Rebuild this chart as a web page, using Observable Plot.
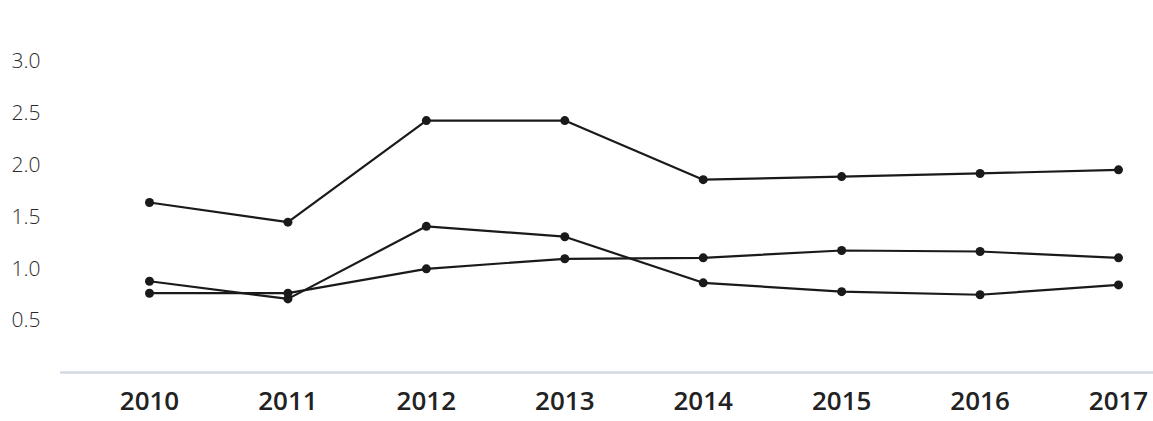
<!DOCTYPE html>
<html>
<head>
<meta charset="utf-8">
<script src="https://cdn.jsdelivr.net/npm/d3@7"></script>
<script src="https://cdn.jsdelivr.net/npm/@observablehq/plot@0.6"></script>
<style>
  html, body { margin: 0; padding: 0; background: #fff; }
  #chart svg { display: block; }
</style>
</head>
<body>
<div id="chart"></div>
<script>
const years = [2010, 2011, 2012, 2013, 2014, 2015, 2016, 2017];
const seriesA = [1.64, 1.45, 2.43, 2.43, 1.86, 1.89, 1.92, 1.955];
const seriesB = [0.88, 0.71, 1.41, 1.31, 0.865, 0.78, 0.75, 0.845];
const seriesC = [0.765, 0.765, 1.0, 1.097, 1.106, 1.177, 1.167, 1.106];
const yTicks = [0.5, 1.0, 1.5, 2.0, 2.5, 3.0];

const rows = [];
[["A", seriesA], ["B", seriesB], ["C", seriesC]].forEach(([name, vals]) => {
  vals.forEach((v, i) => rows.push({series: name, year: years[i], value: v}));
});

const chart = Plot.plot({
  width: 1153,
  height: 421,
  marginLeft: 149,
  marginRight: 35,
  marginTop: 61,
  marginBottom: 49,
  x: {domain: [2010, 2017]},
  y: {domain: [0, 3]},
  style: {background: "#fff"},
  marks: [
    Plot.ruleY([0], {stroke: "#d3d8e2", strokeWidth: 2.5, insetLeft: -89, insetRight: -35}),
    Plot.axisY({
      ticks: yTicks, tickFormat: d3.format(".1f"), tickSize: 0, tickPadding: 109,
      fontSize: 21, fontFamily: "Open Sans", fontWeight: 300, fill: "#2a2a2a", label: null
    }),
    Plot.axisX({
      ticks: years, tickFormat: d => String(d), tickSize: 0, tickPadding: 19,
      fontSize: 26, fontFamily: "Open Sans", fontWeight: 600, fill: "#222", label: null
    }),
    Plot.line(rows, {x: "year", y: "value", z: "series", stroke: "#1a1a1a", strokeWidth: 2.2}),
    Plot.dot(rows, {x: "year", y: "value", r: 4.5, fill: "#1a1a1a", stroke: "none"})
  ]
});
document.getElementById("chart").appendChild(chart);
</script>
</body>
</html>
